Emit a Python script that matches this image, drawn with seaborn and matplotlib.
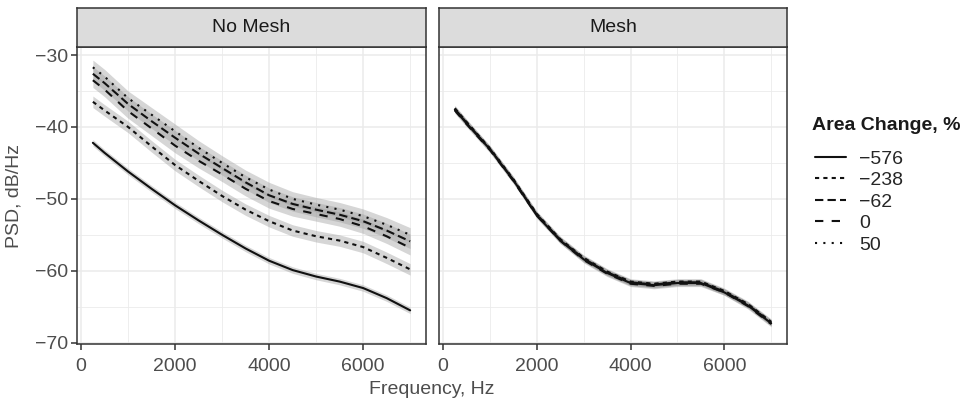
import numpy as np
import pandas as pd
import matplotlib
matplotlib.use("Agg")
import matplotlib.pyplot as plt
import seaborn as sns
from matplotlib.lines import Line2D

sns.set_style("white")
plt.rcParams["font.family"] = ["Liberation Sans", "DejaVu Sans"]

# ---------------- data ----------------
freq = [250, 500, 1000, 1500, 2000, 2500, 3000, 3500, 4000, 4500, 5000, 5500, 6000, 6500, 7000]
groups = ["−576", "−238", "−62", "0", "50"]
panels = ["No Mesh", "Mesh"]

# No Mesh
nm_m576 = [-42.2, -43.6, -46.2, -48.6, -50.9, -53.0, -55.0, -56.9, -58.6, -59.9, -60.8, -61.5, -62.4, -63.8, -65.5]
nm_m238 = [-36.5, -37.7, -40.0, -42.7, -45.3, -47.5, -49.6, -51.5, -53.1, -54.4, -55.2, -55.8, -56.7, -58.2, -59.8]
nm_m62 = [-32.6, -33.9, -36.8, -39.2, -41.5, -43.7, -45.7, -47.7, -49.5, -50.7, -51.5, -52.2, -53.1, -54.4, -55.9]
nm_0 = [-33.5, -34.8, -37.8, -40.2, -42.6, -44.7, -46.6, -48.6, -50.3, -51.4, -52.1, -52.8, -53.8, -55.2, -56.8]
nm_50 = [-31.7, -33.0, -36.0, -38.3, -40.6, -42.9, -45.0, -47.0, -48.7, -50.0, -50.8, -51.5, -52.4, -53.6, -55.0]

# Mesh
me_m576 = [-37.6, -39.5, -43.1, -47.4, -52.3, -55.8, -58.4, -60.3, -61.7, -62.0, -61.7, -61.7, -63.0, -64.8, -67.3]
me_m238 = [-37.4, -39.3, -43.0, -47.3, -52.1, -55.6, -58.2, -60.1, -61.5, -61.8, -61.5, -61.5, -62.8, -64.6, -67.1]
me_m62 = [-37.5, -39.4, -43.1, -47.4, -52.2, -55.7, -58.3, -60.2, -61.6, -61.9, -61.6, -61.6, -62.9, -64.7, -67.2]
me_0 = [-37.7, -39.6, -43.2, -47.5, -52.3, -55.8, -58.5, -60.4, -61.8, -62.1, -61.8, -61.8, -63.0, -64.9, -67.4]
me_50 = [-37.5, -39.4, -43.0, -47.3, -52.2, -55.7, -58.3, -60.2, -61.6, -61.9, -61.6, -61.6, -62.9, -64.7, -67.2]

# ribbon half-widths (dB) per series
nm_band = [0.45, 0.8, 1.0, 1.0, 1.0]
me_band = [0.4, 0.4, 0.4, 0.4, 0.4]

series = {
    "No Mesh": [nm_m576, nm_m238, nm_m62, nm_0, nm_50],
    "Mesh": [me_m576, me_m238, me_m62, me_0, me_50],
}
bands = {"No Mesh": nm_band, "Mesh": me_band}

rows = []
for p in panels:
    for g, vals, b in zip(groups, series[p], bands[p]):
        for f, v in zip(freq, vals):
            rows.append({"panel": p, "Area Change, %": g, "freq": f, "psd": v,
                         "lo": v - b, "hi": v + b})
df = pd.DataFrame(rows)

dashes = {"−576": "", "−238": (2, 2), "−62": (4, 2), "0": (4, 4), "50": (1, 3)}

# ---------------- figure ----------------
W, H = 973, 404
fig = plt.figure(figsize=(W / 100, H / 100), dpi=100)

panel_px = {"No Mesh": (77, 426), "Mesh": (439, 787)}
top_px, bot_px, strip_top = 47, 344, 8
grid_c = "#EBEBEB"
frame_c = "#333333"
tick_c = "#4D4D4D"
fs = 14

for i, p in enumerate(panels):
    x0, x1 = panel_px[p]
    ax = fig.add_axes([x0 / W, (H - bot_px) / H, (x1 - x0) / W, (bot_px - top_px) / H])
    sub = df[df["panel"] == p]
    for g in groups:
        s = sub[sub["Area Change, %"] == g]
        ax.fill_between(s["freq"], s["lo"], s["hi"], color="#999999", alpha=0.4,
                        linewidth=0, zorder=2)
    sns.lineplot(data=sub, x="freq", y="psd", style="Area Change, %",
                 style_order=groups, dashes=dashes, color="#111111",
                 linewidth=1.5, ax=ax, legend=False, zorder=3)
    ax.set_xlim(-87.5, 7337.5)
    ax.set_ylim(-70.18, -28.88)
    ax.set_xticks([0, 2000, 4000, 6000])
    ax.set_xticks([1000, 3000, 5000, 7000], minor=True)
    ax.set_yticks([-70, -60, -50, -40, -30])
    ax.set_yticks([-65, -55, -45, -35], minor=True)
    ax.grid(which="major", color=grid_c, linewidth=1.1, zorder=0)
    ax.grid(which="minor", color=grid_c, linewidth=0.6, zorder=0)
    ax.set_axisbelow(True)
    for sp in ax.spines.values():
        sp.set_color(frame_c)
        sp.set_linewidth(1.1)
        sp.set_visible(True)
    ax.tick_params(which="major", direction="out", length=4, width=1.1, color=frame_c,
                   labelcolor=tick_c, labelsize=fs, bottom=True, left=True)
    ax.tick_params(axis="x", pad=6)
    ax.tick_params(axis="y", pad=2.5)
    ax.tick_params(which="minor", length=0)
    ax.set_xlabel("")
    ax.set_ylabel("")
    if i == 1:
        ax.tick_params(axis="y", left=False, labelleft=False)
    # strip
    sax = fig.add_axes([x0 / W, (H - top_px) / H, (x1 - x0) / W, (top_px - strip_top) / H])
    sax.set_facecolor("#DCDCDC")
    sax.set_xticks([])
    sax.set_yticks([])
    for sp in sax.spines.values():
        sp.set_color(frame_c)
        sp.set_linewidth(1.1)
    sax.text(0.5, 0.5, p, ha="center", va="center", fontsize=fs, color="#1A1A1A",
             transform=sax.transAxes)

fig.text(432 / W, 1 - 389 / H, "Frequency, Hz", ha="center", va="center",
         fontsize=fs, color=tick_c)
fig.text(14 / W, 1 - 196 / H, "PSD, dB/Hz", ha="center", va="center",
         rotation=90, fontsize=fs, color=tick_c)

# legend
fig.text(812 / W, 1 - 126 / H, "Area Change, %", ha="left", va="center",
         fontsize=fs, fontweight="bold", color="#1A1A1A")
handles = []
for g in groups:
    d = dashes[g]
    ln = Line2D([0], [0], color="#111111", linewidth=1.5)
    if d != "":
        ln.set_dashes(d)
    handles.append(ln)
leg = fig.legend(handles, groups, loc="upper left",
                 bbox_to_anchor=(815 / W, 1 - 150 / H), frameon=False,
                 fontsize=fs, handlelength=1.6,
                 handletextpad=0.65, labelspacing=0.2, borderaxespad=0,
                 borderpad=0)

fig.savefig("out.png", dpi=100)
